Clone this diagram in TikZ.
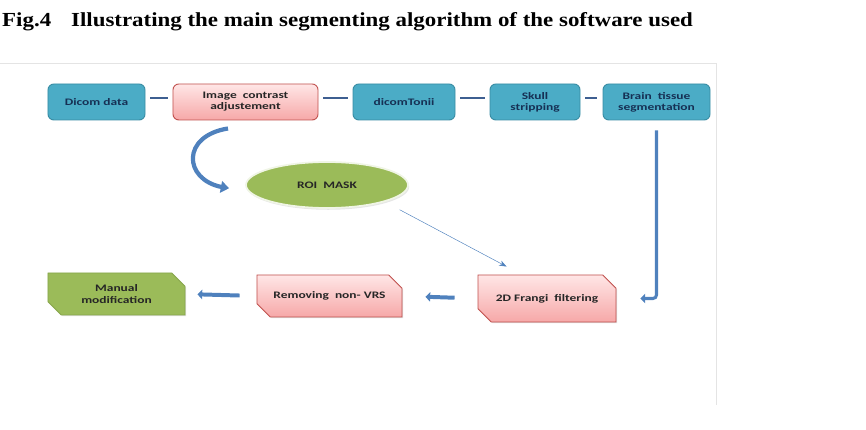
\documentclass[tikz,border=0pt]{standalone}
\usepackage{fontspec}
\setmainfont{Liberation Serif}
\newfontfamily\titlefont[FakeStretch=1.15]{Liberation Serif}
\newfontfamily\boxfont[FakeStretch=1.35]{Carlito}
\usetikzlibrary{arrows.meta,bending,positioning,shapes.geometric,shapes.misc,shadows}
\definecolor{vsblue}{RGB}{75,172,198}
\definecolor{vsbluedark}{RGB}{56,140,163}
\definecolor{vstext}{RGB}{22,48,84}
\definecolor{vspinktop}{RGB}{255,230,230}
\definecolor{vspinkbot}{RGB}{246,168,168}
\definecolor{vsred}{RGB}{192,80,77}
\definecolor{vsgreen}{RGB}{155,187,89}
\definecolor{vsgreendark}{RGB}{135,165,75}
\definecolor{vsarrow}{RGB}{79,129,189}
\definecolor{vslinedark}{RGB}{62,95,145}
\definecolor{vsframe}{RGB}{228,228,228}
\tikzset{
  vsbox/.style={thick, align=center, inner sep=2pt, minimum height=1.08cm, text=vstext, font=\boxfont\bfseries\fontsize{8.5}{9.5}\selectfont},
  vsboxblue/.style={vsbox, draw=vsbluedark, fill=vsblue, rounded corners=5pt},
  vsboxpink/.style={vsbox, draw=vsred, top color=vspinktop, bottom color=vspinkbot, rounded corners=5pt, text=black!85},
  vssnip/.style={vsbox, chamfered rectangle, chamfered rectangle corners={north east,south west}, chamfered rectangle xsep=0.2cm, chamfered rectangle ysep=0.2cm, drop shadow={opacity=.25, shadow xshift=1pt, shadow yshift=-1pt}},
  vssnippink/.style={vssnip, draw=vsred, top color=vspinktop, bottom color=vspinkbot, text=black!85},
  vssnipgreen/.style={vssnip, draw=vsgreendark, fill=vsgreen, text=black!85},
  vsoval/.style={vsbox, ellipse, draw=white!85!vsgreen, line width=1.5pt, fill=vsgreen, minimum width=4.86cm, minimum height=1.38cm, text=black!85, drop shadow={opacity=.2, shadow xshift=1pt, shadow yshift=-1.5pt}},
  vsline/.style={line width=1.8pt, draw=vslinedark, shorten <=.15cm, shorten >=.15cm},
  vsthick/.style={-{Triangle[length=4pt,width=8pt]}, line width=3.4pt, draw=vsarrow},
  vsthin/.style={-{Stealth[length=2.2mm]}, thin, draw=vsarrow}
}
\begin{document}
\begin{tikzpicture}[x=0.03cm, y=-0.03cm]
  \useasboundingbox (0,0) rectangle (866,430);
  \node[anchor=base west, inner sep=0pt, font=\titlefont\bfseries\fontsize{17}{19}\selectfont] (title) at (2,27) {Fig.4\quad Illustrating the main segmenting algorithm of the software used};
  \draw[vsframe] (0,63) -- (716,63) -- (716,405);
  % top row
  \node[vsboxblue, minimum width=2.91cm] (dicom) at (96.5,102) {Dicom data};
  \node[vsboxpink, minimum width=4.35cm] (imgcon) at (245.5,102) {Image\ \ contrast\\adjustement};
  \node[vsboxblue, minimum width=3.06cm] (tonii) at (404,102) {dicomTonii};
  \node[vsboxblue, minimum width=2.7cm] (skull) at (535,102) {Skull\\stripping};
  \node[vsboxblue, minimum width=3.21cm] (brain) at (656.5,102) {Brain\ \ tissue\\segmentation};
  % middle
  \node[vsoval] (roi) at (327,185) {ROI\ \ MASK};
  % bottom row
  \node[vssnippink, minimum width=4.14cm, minimum height=1.41cm] (frangi) at (547,298.5) {2D Frangi\ \ filtering};
  \node[vssnippink, minimum width=4.35cm, minimum height=1.26cm] (removing) at (329.5,296) {Removing\ \ non- VRS};
  \node[vssnipgreen, minimum width=4.11cm, minimum height=1.26cm] (manual) at (116.5,294) {Manual\\modification};
  \coordinate (roiin) at ([xshift=-0.48cm, yshift=-0.09cm]roi.west);
  % connectors
  \draw[vsline] ([yshift=.12cm]dicom.east) -- ([yshift=.12cm]imgcon.west);
  \draw[vsline] ([yshift=.12cm]imgcon.east) -- ([yshift=.12cm]tonii.west);
  \draw[vsline] ([yshift=.12cm]tonii.east) -- ([yshift=.12cm]skull.west);
  \draw[vsline, shorten >=.18cm] ([yshift=.12cm]skull.east) -- ([yshift=.12cm]brain.west);
  \draw[vsthick, line width=3.6pt, -{Triangle[length=7pt,width=10pt,bend]}] ([xshift=-0.525cm, yshift=-0.24cm]imgcon.south) .. controls +(-50,8) and +(-45,-3) .. (roiin);
  \draw[vsthick, line width=2.6pt, rounded corners=3pt, shorten <=.3cm, shorten >=.72cm] (brain.south) |- (frangi.east);
  \draw[vsthick, shorten <=.69cm, shorten >=.69cm] (frangi.west) -- (removing.east);
  \draw[vsthick, shorten <=.51cm, shorten >=.36cm] (removing.west) -- (manual.east);
  \draw[vsthin, shorten <=.5cm] (roi.south east) -- ([xshift=.87cm, yshift=.24cm]frangi.north west);
\end{tikzpicture}
\end{document}
